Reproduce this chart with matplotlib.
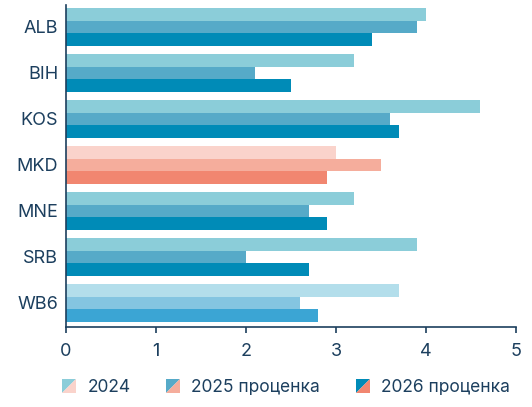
import matplotlib.pyplot as plt
from matplotlib.legend_handler import HandlerBase
from matplotlib.patches import Polygon, Rectangle

plt.rcParams['font.family'] = ['Inter', 'DejaVu Sans']

countries = ["ALB", "BIH", "KOS", "MKD", "MNE", "SRB", "WB6"]
series = ["2024", "2025 проценка", "2026 проценка"]
vals_2024 = [4.0, 3.2, 4.6, 3.0, 3.2, 3.9, 3.7]
vals_2025 = [3.9, 2.1, 3.6, 3.5, 2.7, 2.0, 2.6]
vals_2026 = [3.4, 2.5, 3.7, 2.9, 2.9, 2.7, 2.8]

blue = ["#8BCDD9", "#56AAC8", "#008BB7"]
red = ["#FAD3CB", "#F5AD9C", "#F18670"]
wb6 = ["#B3DEEB", "#84C5E1", "#3BA5D4"]
navy = "#1C3F5E"


class SplitHandler(HandlerBase):
    def __init__(self, c1, c2):
        super().__init__()
        self.c1, self.c2 = c1, c2

    def create_artists(self, legend, orig_handle, xdescent, ydescent,
                       width, height, fontsize, trans):
        s = min(width, height)
        x0 = width - s - xdescent
        y0 = -ydescent
        tl = Polygon([[x0, y0], [x0, y0 + s], [x0 + s, y0 + s]],
                     closed=True, fc=self.c1, ec="none", transform=trans)
        br = Polygon([[x0, y0], [x0 + s, y0], [x0 + s, y0 + s]],
                     closed=True, fc=self.c2, ec="none", transform=trans)
        return [tl, br]


fig = plt.figure(figsize=(5.32, 4.07), dpi=100)
ax = fig.add_axes([0.124, 0.197, 0.846, 0.791])

all_vals = [vals_2024, vals_2025, vals_2026]
h = 0.275
for i, c in enumerate(countries):
    palette = red if c == "MKD" else (wb6 if c == "WB6" else blue)
    for j in range(3):
        ax.barh(i + (j - 1) * h, all_vals[j][i], height=h,
                color=palette[j], linewidth=0)

ax.set_xlim(0, 5)
ax.set_ylim(6.52, -0.48)
ax.set_yticks(range(len(countries)))
ax.set_yticklabels(countries)
ax.set_xticks(range(6))

for s in ["top", "right"]:
    ax.spines[s].set_visible(False)
for s in ["left", "bottom"]:
    ax.spines[s].set_color(navy)
    ax.spines[s].set_linewidth(1.2)

ax.tick_params(axis="y", length=0, pad=5.5, labelsize=13, colors=navy)
ax.tick_params(axis="x", length=4.5, width=1.2, pad=7, labelsize=13,
               colors=navy)

handles = [Rectangle((0, 0), 1, 1) for _ in series]
handler_map = {handles[k]: SplitHandler(blue[k], red[k]) for k in range(3)}
fig.legend(handles, series, handler_map=handler_map,
           loc="center", bbox_to_anchor=(0.537, 0.047), ncol=3,
           frameon=False, fontsize=12.5, labelcolor=navy,
           handlelength=0.85, handleheight=0.85, handletextpad=0.65,
           columnspacing=2.0)

fig.savefig("out.png", dpi=100)
